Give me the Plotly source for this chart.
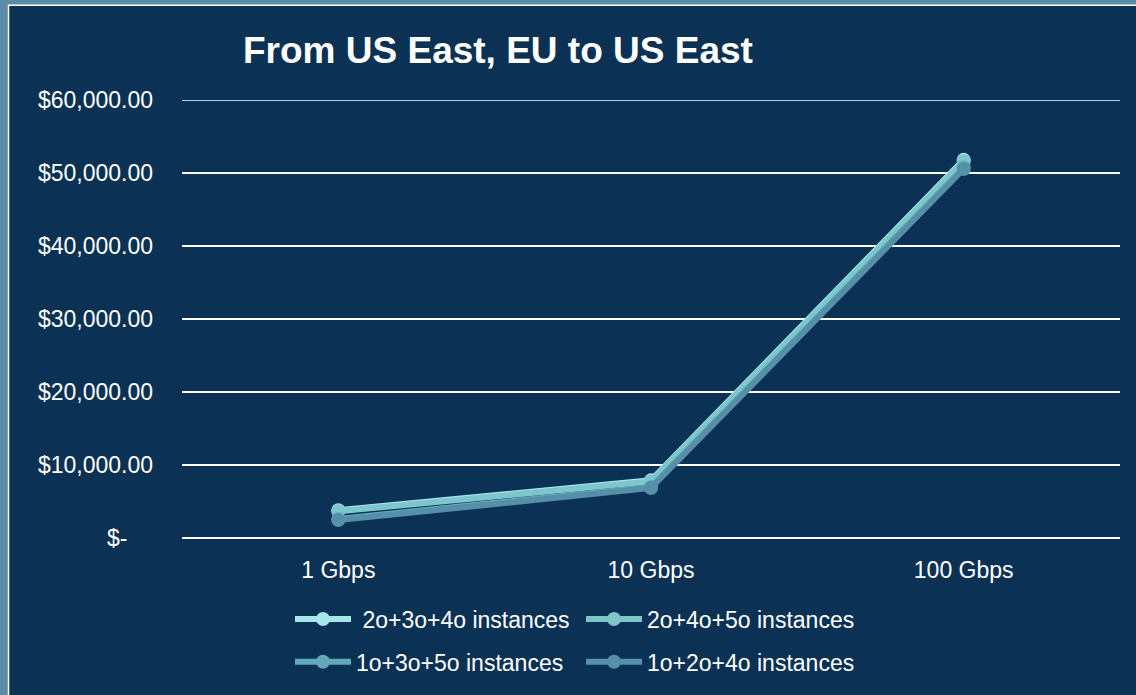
import plotly.graph_objects as go

categories = ["1 Gbps", "10 Gbps", "100 Gbps"]
series_names = ["\u00a02o+3o+4o instances", "2o+4o+5o instances", "1o+3o+5o instances", "1o+2o+4o instances"]
s1 = [3800, 7900, 51800]
s2 = [3650, 7750, 51600]
s3 = [2600, 7000, 50750]
s4 = [2450, 6850, 50550]
series_values = [s1, s2, s3, s4]
colors = ["#A8E6EE", "#7CC6CC", "#62AABA", "#5590A8"]
legends = ["legend", "legend", "legend2", "legend2"]

y_tickvals = [0, 10000, 20000, 30000, 40000, 50000, 60000]
y_ticktext = ["$-" + "\u00a0" * 4, "$10,000.00", "$20,000.00", "$30,000.00",
              "$40,000.00", "$50,000.00", "$60,000.00"]
y_max = 60000

FONT = "Liberation Sans, Arial, sans-serif"

fig = go.Figure()
for name, vals, col, lg in zip(series_names, series_values, colors, legends):
    fig.add_trace(go.Scatter(
        x=categories, y=vals, name=name, mode="lines+markers",
        line=dict(color=col, width=6), marker=dict(color=col, size=14),
        legend=lg,
    ))

W, H = 1136, 695
L, R, T, B = 182, 16, 100, 154
pw, ph = W - L - R, H - T - B

def px_x(p):
    return (p - L) / pw

def px_y(p):
    return (H - B - p) / ph

fig.add_shape(type="rect", xref="paper", yref="paper",
              x0=px_x(8.5), x1=px_x(1145), y0=px_y(705), y1=px_y(4.5),
              fillcolor="#0B3254", line=dict(color="white", width=1.5), layer="below")
# top gridline (plotly omits the gridline at the range edge)
fig.add_shape(type="line", xref="paper", yref="y", x0=0, x1=1, y0=y_max, y1=y_max,
              line=dict(color="white", width=1.5), layer="below")

legend_common = dict(orientation="h", xanchor="left", yanchor="top",
                     entrywidth=220, entrywidthmode="pixels", itemwidth=56,
                     font=dict(size=23, color="white"), bgcolor="rgba(0,0,0,0)")

fig.update_layout(
    width=W, height=H,
    margin=dict(l=L, r=R, t=T, b=B),
    paper_bgcolor="#5A8BA8",
    plot_bgcolor="rgba(0,0,0,0)",
    font=dict(family=FONT, color="white", size=23),
    title=dict(text="<b>From US East, EU to US East</b>", xref="container", yref="container",
               x=243 / W, y=1 - 50 / H, xanchor="left", yanchor="middle",
               font=dict(size=37, color="white", family=FONT)),
    xaxis=dict(showgrid=False, showline=False, zeroline=False, ticks="",
               tickfont=dict(size=23, color="white"), range=[-0.5, 2.5],
               ticklabelstandoff=16),
    yaxis=dict(range=[0, y_max], tickvals=y_tickvals, ticktext=y_ticktext,
               showgrid=True, gridcolor="white", gridwidth=1.5, zeroline=True,
               zerolinecolor="white", zerolinewidth=1.5, showline=False, ticks="",
               tickfont=dict(size=23, color="white"), ticklabelstandoff=28),
    legend=dict(x=px_x(290), y=px_y(601), **legend_common),
    legend2=dict(x=px_x(290), y=px_y(644), **legend_common),
    showlegend=True,
)

fig.write_html("out.html", config={"displayModeBar": False},
               post_script="document.body.style.margin='0';document.body.style.overflow='hidden';")
